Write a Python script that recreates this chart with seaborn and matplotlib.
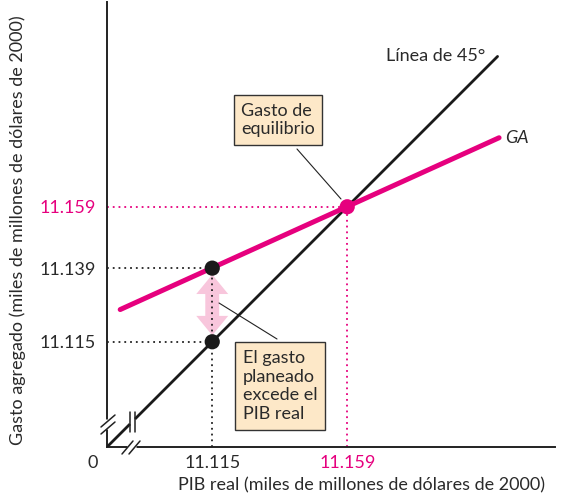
import matplotlib
matplotlib.use('Agg')
import matplotlib.pyplot as plt
import seaborn as sns
from matplotlib.patches import FancyArrowPatch

PINK = '#e6007e'
LIGHT_PINK = '#f8c6dc'
BOX_FILL = '#fde8c8'

# values (miles de millones de dólares de 2000)
pib_eq = 11.159          # gasto de equilibrio
pib_bajo = 11.115        # PIB real por debajo del equilibrio
gasto_plan = 11.139      # gasto planeado a ese PIB
ga_x = [11.085, 11.2085]
ga_y = [11.1255, 11.1815]
linea45 = [11.0807, 11.208]
x_ticks = [pib_bajo, pib_eq]
x_tick_labels = ['11.115', '11.159']
y_ticks = [pib_bajo, gasto_plan, pib_eq]
y_tick_labels = ['11.115', '11.139', '11.159']

sns.set_theme(style='white')
plt.rcParams['font.family'] = ['Lato', 'DejaVu Sans']
FS = 13

# pixel scale of the original drawing
SC = 3068.0
XMIN = YMIN = 11.0807
XMAX = XMIN + 448 / SC
YMAX = YMIN + 445 / SC


def px(xp, yp):
    return XMIN + (xp - 107) / SC, YMIN + (447 - yp) / SC


fig = plt.figure(figsize=(5.61, 4.97), dpi=100)
ax = fig.add_axes([107 / 561, 50 / 497, 448 / 561, 445 / 497])
ax.set_xlim(XMIN, XMAX)
ax.set_ylim(YMIN, YMAX)

# dotted guides
dot = dict(linestyle=(0, (1, 2.2)), linewidth=1.3, zorder=2)
ax.hlines(pib_eq, XMIN, pib_eq, color=PINK, **dot)
ax.vlines(pib_eq, YMIN, pib_eq, color=PINK, **dot)
ax.hlines([gasto_plan, pib_bajo], XMIN, pib_bajo, color='#222222', **dot)

# pink double arrow (gap between planned spending and GDP)
mid = (gasto_plan + pib_bajo) / 2
for end in (gasto_plan - 0.0021, pib_bajo + 0.0021):
    ax.add_patch(FancyArrowPatch((pib_bajo, mid), (pib_bajo, end),
                                 arrowstyle='simple,head_length=1.4,head_width=2.3,tail_width=1.0',
                                 mutation_scale=10, color=LIGHT_PINK, lw=0,
                                 shrinkA=0, shrinkB=0, zorder=1.5))
ax.vlines(pib_bajo, YMIN, gasto_plan, color='#222222', **dot)

# lines
sns.lineplot(x=linea45, y=linea45, color='#1a1a1a', linewidth=2.0, ax=ax, zorder=3)
sns.lineplot(x=ga_x, y=ga_y, color=PINK, linewidth=3.6, ax=ax, zorder=4)

# points
sns.scatterplot(x=[pib_bajo, pib_bajo], y=[gasto_plan, pib_bajo], color='#1a1a1a',
                s=120, edgecolor='none', ax=ax, zorder=5)
sns.scatterplot(x=[pib_eq], y=[pib_eq], color=PINK, s=120, edgecolor='none', ax=ax, zorder=5)

# spines and ticks
for s in ['top', 'right']:
    ax.spines[s].set_visible(False)
for s in ['left', 'bottom']:
    ax.spines[s].set_color('#222222')
    ax.spines[s].set_linewidth(1.4)
ax.set_xticks(x_ticks)
ax.set_xticklabels(x_tick_labels)
ax.set_yticks(y_ticks)
ax.set_yticklabels(y_tick_labels)
ax.tick_params(length=0, labelsize=FS, labelcolor='#2a2a2a')
ax.tick_params(axis='x', pad=5.5)
ax.tick_params(axis='y', pad=8)
ax.get_xticklabels()[1].set_color(PINK)
ax.get_yticklabels()[2].set_color(PINK)

# axis breaks
brk = dict(color='#222222', linewidth=1.1, clip_on=False, zorder=6)
white = dict(color='white', linewidth=5, clip_on=False, zorder=5.5, solid_capstyle='butt')
# y axis
a, b = px(107, 419), px(107, 429)
ax.plot([a[0], b[0]], [a[1], b[1]], **white)
for off in (0, 7):
    a, b = px(101, 427 + off), px(115, 415 + off)
    ax.plot([a[0], b[0]], [a[1], b[1]], **brk)
# x axis
a, b = px(127, 447), px(136, 447)
ax.plot([a[0], b[0]], [a[1], b[1]], **white)
for off in (0, 7):
    a, b = px(122 + off, 454), px(133 + off, 441)
    ax.plot([a[0], b[0]], [a[1], b[1]], **brk)
# 45 degree line
a, b = px(130, 424), px(135, 419)
ax.plot([a[0], b[0]], [a[1], b[1]], **white)
for xp in (130, 135):
    a, b = px(xp, 432), px(xp, 412)
    ax.plot([a[0], b[0]], [a[1], b[1]], **brk)

# labels
ax.text(*px(93, 463), '0', fontsize=FS, ha='center', va='center', color='#2a2a2a', clip_on=False)
fig.text(362 / 561, 1 - 485 / 497, 'PIB real (miles de millones de dólares de 2000)',
         fontsize=FS, ha='center', va='center', color='#2a2a2a')
fig.text(18 / 561, 1 - 230 / 497, 'Gasto agregado (miles de millones de dólares de 2000)',
         fontsize=FS, ha='center', va='center', rotation=90, color='#2a2a2a')
ax.annotate('Línea de 45°', xy=(linea45[1], linea45[1]), xytext=(-9, 0),
            textcoords='offset points', fontsize=FS, ha='right', va='center', color='#2a2a2a')
ax.annotate('GA', xy=(ga_x[1], ga_y[1]), xytext=(4, 0), textcoords='offset points',
            fontsize=FS, ha='left', va='center', style='italic', color='#2a2a2a')

# callout boxes
box = dict(boxstyle='square,pad=0.42', facecolor=BOX_FILL, edgecolor='#333333', linewidth=1.0)
ax.text(*px(278, 120), 'Gasto de\nequilibrio', fontsize=FS, ha='center', va='center',
        multialignment='left', bbox=box, color='#2a2a2a', zorder=7, linespacing=1.2)
a, b = px(297, 149), px(341, 199)
ax.plot([a[0], b[0]], [a[1], b[1]], color='#222222', linewidth=0.8, zorder=2.5)
ax.text(*px(280, 386), 'El gasto\nplaneado\nexcede el\nPIB real', fontsize=FS, ha='center',
        va='center', multialignment='left', bbox=box, color='#2a2a2a', zorder=7, linespacing=1.22)
a, b = px(277, 339), px(219, 303)
ax.plot([a[0], b[0]], [a[1], b[1]], color='#222222', linewidth=0.8, zorder=2.5)

fig.savefig('out.png', dpi=100)
